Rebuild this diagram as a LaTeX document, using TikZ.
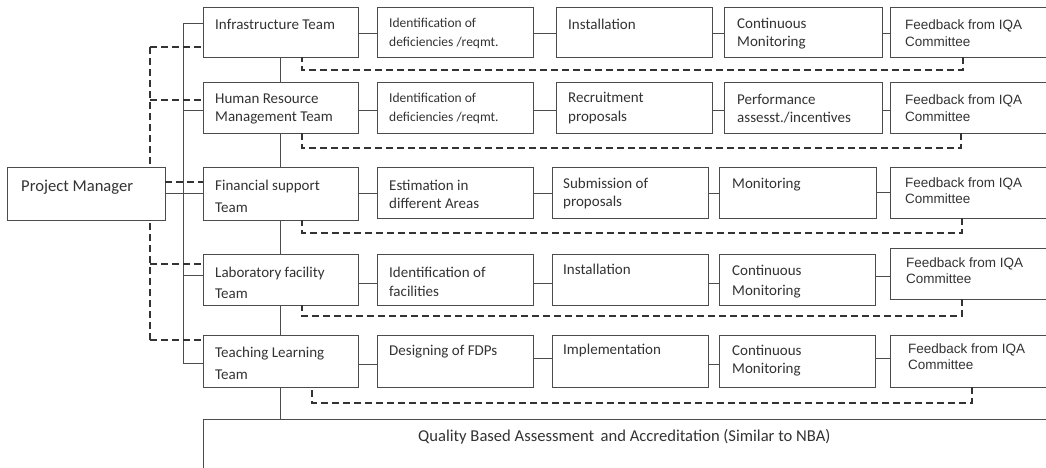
\documentclass[tikz,border=0pt]{standalone}
\usepackage{fontspec}
\setmainfont{Carlito}
\newfontfamily\arialf{Liberation Sans}
\begin{document}
\begin{tikzpicture}[x=1pt,y=-1pt,
  box/.style={draw=black!70,line width=0.9pt,fill=white,inner sep=0pt,outer sep=0pt,anchor=north west},
  tc/.style={font=\fontsize{15}{#1}\selectfont,text=black!80,align=left,inner sep=0pt,anchor=west},
  tc/.default=21,
  tbig/.style={font=\fontsize{16.6}{20}\selectfont,text=black!80,align=left,inner sep=0pt,anchor=west},
  ts/.style={font=\fontsize{13.5}{19}\selectfont,text=black!80,align=left,inner sep=0pt,anchor=west},
  ta/.style={font=\arialf\fontsize{13.5}{#1}\selectfont,text=black!80,align=left,inner sep=0pt,anchor=west},
  ta/.default=16,
  conn/.style={draw=black!70,line width=0.9pt},
  dsh/.style={draw=black!80,line width=1.5pt,dash pattern=on 7pt off 4pt}]
\useasboundingbox (0,0) rectangle (1046,468);
\clip (0,0) rectangle (1046,468);

% long dashed spine (behind the project manager box)
\coordinate (dT) at (150,47);
\coordinate (dB) at (150,340);
\draw[dsh] (dT) -- (dB);

% boxes
\node[box,minimum width=158pt,minimum height=53pt] (pm) at (7,167) {};
\node[box,minimum width=155pt,minimum height=50pt] (t1) at (203,7) {};
\node[box,minimum width=155pt,minimum height=51pt] (t2) at (203,82) {};
\node[box,minimum width=155pt,minimum height=53pt] (t3) at (203,167) {};
\node[box,minimum width=155pt,minimum height=51pt] (t4) at (203,254) {};
\node[box,minimum width=155pt,minimum height=52pt] (t5) at (203,335) {};
\node[box,minimum width=156pt,minimum height=50pt] (a1) at (377,7) {};
\node[box,minimum width=156pt,minimum height=51pt] (a2) at (377,82) {};
\node[box,minimum width=156pt,minimum height=51pt] (a3) at (377,167) {};
\node[box,minimum width=156pt,minimum height=51pt] (a4) at (377,254) {};
\node[box,minimum width=156pt,minimum height=52pt] (a5) at (377,335) {};
\node[box,minimum width=156pt,minimum height=50pt] (b1) at (556,7) {};
\node[box,minimum width=156pt,minimum height=51pt] (b2) at (556,82) {};
\node[box,minimum width=156pt,minimum height=51pt] (b3) at (552,167) {};
\node[box,minimum width=156pt,minimum height=51pt] (b4) at (552,254) {};
\node[box,minimum width=156pt,minimum height=52pt] (b5) at (552,335) {};
\node[box,minimum width=158pt,minimum height=50pt] (c1) at (724,7) {};
\node[box,minimum width=158pt,minimum height=51pt] (c2) at (724,82) {};
\node[box,minimum width=157pt,minimum height=51pt] (c3) at (719,167) {};
\node[box,minimum width=156pt,minimum height=51pt] (c4) at (719,254) {};
\node[box,minimum width=156pt,minimum height=52pt] (c5) at (719,335) {};
\node[box,minimum width=200pt,minimum height=50pt] (f1) at (890,7) {};
\node[box,minimum width=200pt,minimum height=51pt] (f2) at (890,82) {};
\node[box,minimum width=200pt,minimum height=51pt] (f3) at (890,167) {};
\node[box,minimum width=200pt,minimum height=51pt] (f4) at (890,248) {};
\node[box,minimum width=200pt,minimum height=52pt] (f5) at (890,335) {};
\node[box,minimum width=900pt,minimum height=100pt] (qa) at (203,419) {};

% texts
\node[tbig] (pmt) at (21,187) {Project Manager};
\node[tc] (t1t) at (215,24) {Infrastructure Team};
\node[tc=18] (t2t) at (215,109) {Human Resource\\Management Team};
\node[tc=22] (t3t) at (215,196) {Financial support\\Team};
\node[tc=21] (t4t) at (215,282.5) {Laboratory facility\\Team};
\node[tc=22] (t5t) at (215,363) {Teaching Learning\\Team};
\node[ts] (a1t) at (389,33.5) {Identification of\\deficiencies /reqmt.};
\node[ts] (a2t) at (389,108.5) {Identification of\\deficiencies /reqmt.};
\node[tc=18] (a3t) at (389,194) {Estimation in\\different Areas};
\node[tc=19] (a4t) at (389,281.5) {Identification of\\facilities};
\node[tc] (a5t) at (389,352) {Designing of FDPs};
\node[tc] (b1t) at (568,24) {Installation};
\node[tc=19] (b2t) at (568,108.5) {Recruitment\\proposals};
\node[tc=18] (b3t) at (563,194) {Submission of\\proposals};
\node[tc] (b4t) at (563,269) {Installation};
\node[tc] (b5t) at (563,350) {Implementation};
\node[tc=18] (c1t) at (737,34) {Continuous\\Monitoring};
\node[tc=18] (c2t) at (737,109) {Performance\\assesst./incentives};
\node[tc] (c3t) at (732,185) {Monitoring};
\node[tc=20] (c4t) at (732,282) {Continuous\\Monitoring};
\node[tc=18] (c5t) at (732,361) {Continuous\\Monitoring};
\node[ta=17] (f1t) at (905,33.5) {Feedback from IQA\\Committee};
\node[ta=17] (f2t) at (905,108.5) {Feedback from IQA\\Committee};
\node[ta] (f3t) at (905,191) {Feedback from IQA\\Committee};
\node[ta] (f4t) at (906,271) {Feedback from IQA\\Committee};
\node[ta] (f5t) at (908,357) {Feedback from IQA\\Committee};
\node[tbig] (qat) at (418,437) {Quality Based Assessment\ \,and Accreditation (Similar to NBA)};

% solid team spine
\coordinate (spT) at (183,23);
\coordinate (spB) at (183,363);
\draw[conn] (t1.west |- spT) -- (spT) -- (spB) -- (t5.west |- spB);
\draw[conn] (spT |- 0,110) -- (t2.west |- 0,110);
\draw[conn] (spT |- 0,275) -- (t4.west |- 0,275);
\draw[conn] (pm.east |- 0,193) -- (t3.west |- 0,193);

% central vertical chain
\draw[conn] (t1.south) -- (t2.north);
\draw[conn] (t2.south) -- (t3.north);
\draw[conn] (t3.south) -- (t4.north);
\draw[conn] (t4.south) -- (t5.north);
\draw[conn] (t5.south) -- (t5.south |- qa.north);

% row connectors
\draw[conn] (t1.east |- 0,33) -- (a1.west |- 0,33);
\draw[conn] (a1.east |- 0,33) -- (b1.west |- 0,33);
\draw[conn] (b1.east |- 0,33) -- (c1.west |- 0,33);
\draw[conn] (c1.east |- 0,33) -- (f1.west |- 0,33);
\draw[conn] (t2.east |- 0,110) -- (a2.west |- 0,110);
\draw[conn] (a2.east |- 0,110) -- (b2.west |- 0,110);
\draw[conn] (b2.east |- 0,110) -- (c2.west |- 0,110);
\draw[conn] (c2.east |- 0,110) -- (f2.west |- 0,110);
\draw[conn] (t3.east |- 0,193) -- (a3.west |- 0,193);
\draw[conn] (a3.east |- 0,193) -- (b3.west |- 0,193);
\draw[conn] (b3.east |- 0,193) -- (c3.west |- 0,193);
\draw[conn] (c3.east |- 0,192) -- (f3.west |- 0,192);
\draw[conn] (t4.east |- 0,283) -- (a4.west |- 0,283);
\draw[conn] (a4.east |- 0,283) -- (b4.west |- 0,283);
\draw[conn] (b4.east |- 0,283) -- (c4.west |- 0,283);
\draw[conn] (c4.east |- 0,276) -- (f4.west |- 0,276);
\draw[conn] (t5.east |- 0,364) -- (a5.west |- 0,364);
\draw[conn] (a5.east |- 0,358) -- (b5.west |- 0,358);
\draw[conn] (b5.east |- 0,364) -- (c5.west |- 0,364);
\draw[conn] (c5.east |- 0,358) -- (f5.west |- 0,358);

% dashed links from the dashed spine
\draw[dsh] (dT) -- (t1.west |- dT);
\draw[dsh] (dT |- 0,100) -- (t2.west |- 0,100);
\draw[dsh] (dT |- 0,264) -- (t4.west |- 0,264);
\draw[dsh] (dB) -- (t5.west |- dB);
\draw[dsh] (pm.east |- 0,182) -- (t3.west |- 0,182);

% dashed feedback loops
\draw[dsh] ([xshift=73pt]f1.south west) -- ++(0,13) -| ([xshift=99pt]t1.south west);
\draw[dsh] ([xshift=71pt]f2.south west) -- ++(0,15) -| ([xshift=99pt]t2.south west);
\draw[dsh] ([xshift=72pt]f3.south west) -- ++(0,15) -| ([xshift=99pt]t3.south west);
\draw[dsh] ([xshift=72pt]f4.south west) -- ++(0,17) -| ([xshift=99pt]t4.south west);
\draw[dsh] ([xshift=82pt]f5.south west) -- ++(0,16) -| ([xshift=109pt]t5.south west);
\end{tikzpicture}
\end{document}
